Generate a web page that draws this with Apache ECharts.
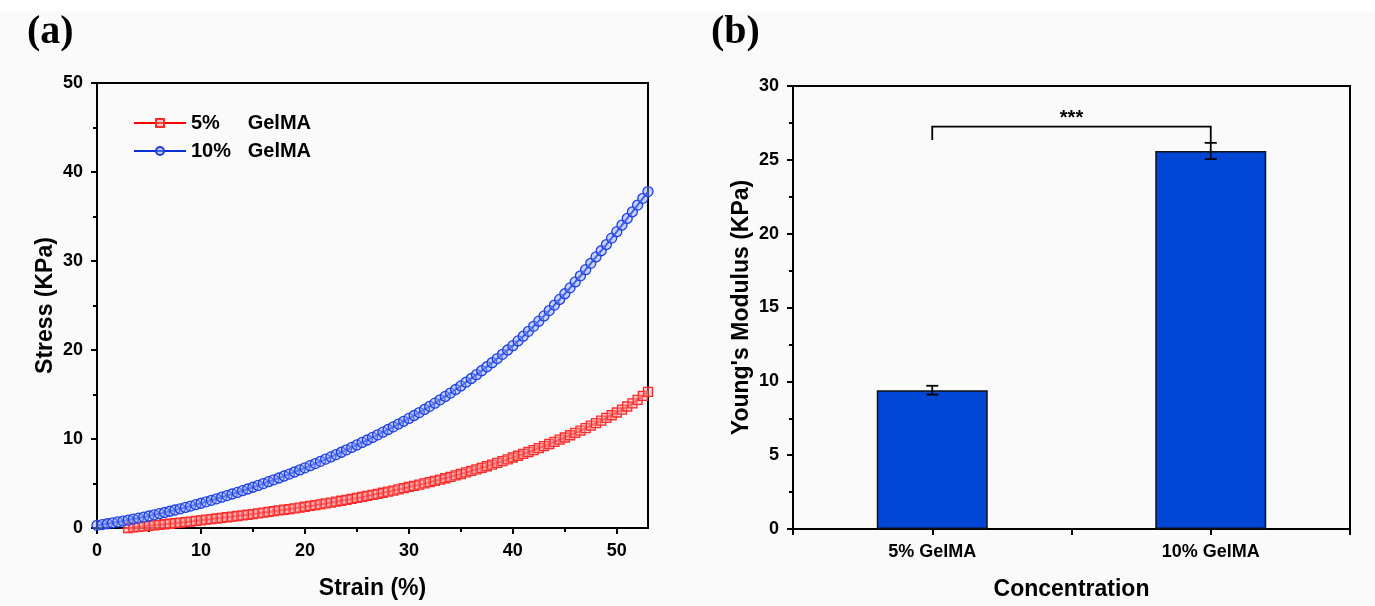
<!DOCTYPE html>
<html>
<head>
<meta charset="utf-8">
<title>GelMA mechanics</title>
<script src="https://cdn.jsdelivr.net/npm/echarts@6/dist/echarts.min.js"></script>
<style>
  html, body { margin: 0; padding: 0; background: #fafafa; }
  #main { width: 1375px; height: 606px; }
</style>
</head>
<body>
<div id="main"></div>
<script>
// (a) stress-strain curves, strain in %
var strain = [
  0, 0.5, 1, 1.5, 2, 2.5, 3, 3.5, 4, 4.5, 5, 5.5, 6, 6.5, 7, 7.5, 8, 8.5, 9, 9.5,
  10, 10.5, 11, 11.5, 12, 12.5, 13, 13.5, 14, 14.5, 15, 15.5, 16, 16.5, 17, 17.5, 18, 18.5, 19, 19.5,
  20, 20.5, 21, 21.5, 22, 22.5, 23, 23.5, 24, 24.5, 25, 25.5, 26, 26.5, 27, 27.5, 28, 28.5, 29, 29.5,
  30, 30.5, 31, 31.5, 32, 32.5, 33, 33.5, 34, 34.5, 35, 35.5, 36, 36.5, 37, 37.5, 38, 38.5, 39, 39.5,
  40, 40.5, 41, 41.5, 42, 42.5, 43, 43.5, 44, 44.5, 45, 45.5, 46, 46.5, 47, 47.5, 48, 48.5, 49, 49.5,
  50, 50.5, 51, 51.5, 52, 52.5, 53
];
var stress5 = [
  null, null, null, null, -0.30, -0.15, 0.00, 0.06, 0.12, 0.18, 0.24, 0.30, 0.36, 0.42, 0.48, 0.54, 0.60, 0.66, 0.72, 0.79,
  0.86, 0.93, 1.00, 1.07, 1.14, 1.21, 1.28, 1.35, 1.42, 1.49, 1.57, 1.65, 1.73, 1.81, 1.89, 1.97, 2.05, 2.13, 2.21, 2.30,
  2.39, 2.48, 2.57, 2.66, 2.76, 2.86, 2.96, 3.06, 3.16, 3.27, 3.38, 3.49, 3.60, 3.72, 3.84, 3.96, 4.08, 4.21, 4.34, 4.47,
  4.61, 4.74, 4.87, 5.01, 5.15, 5.29, 5.44, 5.59, 5.75, 5.91, 6.07, 6.24, 6.41, 6.58, 6.76, 6.94, 7.13, 7.32, 7.52, 7.72,
  7.92, 8.12, 8.33, 8.54, 8.76, 8.98, 9.21, 9.44, 9.68, 9.92, 10.17, 10.42, 10.68, 10.95, 11.22, 11.50, 11.78, 12.07, 12.37, 12.67,
  12.98, 13.31, 13.65, 14.00, 14.40, 14.85, 15.30
];
var stress10 = [
  0.30, 0.39, 0.48, 0.58, 0.68, 0.78, 0.89, 1.00, 1.11, 1.23, 1.35, 1.48, 1.61, 1.74, 1.88, 2.02, 2.16, 2.31, 2.46, 2.62,
  2.78, 2.94, 3.11, 3.28, 3.46, 3.64, 3.82, 4.00, 4.19, 4.38, 4.58, 4.78, 4.99, 5.20, 5.41, 5.62, 5.84, 6.06, 6.29, 6.52,
  6.76, 7.00, 7.24, 7.49, 7.74, 7.99, 8.25, 8.51, 8.78, 9.05, 9.33, 9.61, 9.89, 10.18, 10.47, 10.77, 11.07, 11.37, 11.68, 11.99,
  12.31, 12.64, 12.97, 13.32, 13.67, 14.03, 14.40, 14.78, 15.16, 15.56, 15.96, 16.38, 16.80, 17.23, 17.67, 18.12, 18.57, 19.04, 19.51, 20.00,
  20.49, 21.02, 21.55, 22.10, 22.66, 23.24, 23.83, 24.43, 25.05, 25.68, 26.32, 26.98, 27.65, 28.33, 29.03, 29.74, 30.46, 31.15, 31.85, 32.57,
  33.30, 34.04, 34.78, 35.53, 36.28, 37.04, 37.80
];
var curveNames = ['5%     GelMA', '10%   GelMA'];
var strainMajor = [0, 10, 20, 30, 40, 50];
var strainMinor = [5, 15, 25, 35, 45];

// (b) Young's modulus
var concentrations = ['5% GelMA', '10% GelMA'];
var concPos = [1, 3];
var modulus = [9.4, 25.6];
var modulusErr = [0.3, 0.55];
// significance bracket: [from, to, top, left leg end, right leg end]
var sigBracket = [1, 3, 27.25, 26.35, 26.15];
var sigLabel = '***';

function pairs(xs, ys) {
  var out = [];
  for (var i = 0; i < xs.length; i++) {
    if (ys[i] !== null) out.push([xs[i], ys[i]]);
  }
  return out;
}

var chart = echarts.init(document.getElementById('main'));

var tickFont = { color: '#000', fontFamily: 'Liberation Sans', fontWeight: 'bold', fontSize: 18 };
var nameFont = { color: '#000', fontFamily: 'Liberation Sans', fontWeight: 'bold', fontSize: 23 };
var blackLine = { lineStyle: { color: '#000', width: 2 } };
var tickLine = { color: '#000', width: 2 };

chart.setOption({
  animation: false,
  backgroundColor: '#fafafa',
  graphic: [
    { type: 'rect', left: 0, top: 0, shape: { width: 1375, height: 12 }, style: { fill: '#ffffff' } },
    { type: 'text', left: 27, top: 13, style: { text: '(a)', font: 'bold 40px "Liberation Serif"', fill: '#000' } },
    { type: 'text', left: 711, top: 13, style: { text: '(b)', font: 'bold 40px "Liberation Serif"', fill: '#000' } }
  ],
  grid: [
    { left: 97, top: 83, width: 551, height: 445, show: true, borderColor: '#000', borderWidth: 2, backgroundColor: 'transparent' },
    { left: 793, top: 86, width: 557, height: 443, show: true, borderColor: '#000', borderWidth: 2, backgroundColor: 'transparent' }
  ],
  legend: {
    data: curveNames,
    orient: 'vertical',
    left: 128,
    top: 108,
    itemWidth: 52,
    itemHeight: 10,
    itemGap: 8,
    textStyle: { color: '#000', fontFamily: 'Liberation Sans', fontWeight: 'bold', fontSize: 20, padding: [0, 0, 0, 0] }
  },
  xAxis: [
    {
      gridIndex: 0, type: 'value', min: 0, max: 53,
      name: 'Strain (%)', nameLocation: 'middle', nameGap: 49, nameTextStyle: nameFont,
      axisLine: blackLine,
      axisTick: { customValues: strainMajor, length: 6, lineStyle: tickLine },
      axisLabel: Object.assign({ customValues: strainMajor, margin: 14 }, tickFont),
      splitLine: { show: false }
    },
    {
      gridIndex: 0, type: 'value', min: 0, max: 53, position: 'bottom',
      axisLine: { show: false },
      axisTick: { customValues: strainMinor, length: 4, lineStyle: tickLine },
      axisLabel: { show: false },
      splitLine: { show: false }
    },
    {
      gridIndex: 1, type: 'value', min: 0, max: 4, interval: 1,
      name: 'Concentration', nameLocation: 'middle', nameGap: 49, nameTextStyle: nameFont,
      axisLine: blackLine,
      axisTick: { length: 6, lineStyle: tickLine },
      axisLabel: Object.assign({
        margin: 14,
        formatter: function (v) {
          var i = concPos.indexOf(v);
          return i >= 0 ? concentrations[i] : '';
        }
      }, tickFont),
      splitLine: { show: false }
    }
  ],
  yAxis: [
    {
      gridIndex: 0, type: 'value', min: 0, max: 50, interval: 10,
      name: 'Stress (KPa)', nameLocation: 'middle', nameGap: 40, nameTextStyle: nameFont,
      axisLine: blackLine,
      axisTick: { length: 6, lineStyle: tickLine },
      minorTick: { show: true, splitNumber: 2, length: 4, lineStyle: tickLine },
      axisLabel: Object.assign({ margin: 14 }, tickFont),
      splitLine: { show: false }
    },
    {
      gridIndex: 1, type: 'value', min: 0, max: 30, interval: 5,
      name: "Young's Modulus (KPa)", nameLocation: 'middle', nameGap: 40, nameTextStyle: nameFont,
      axisLine: blackLine,
      axisTick: { length: 6, lineStyle: tickLine },
      minorTick: { show: true, splitNumber: 2, length: 4, lineStyle: tickLine },
      axisLabel: Object.assign({ margin: 14 }, tickFont),
      splitLine: { show: false }
    }
  ],
  series: [
    {
      name: curveNames[0], type: 'line', xAxisIndex: 0, yAxisIndex: 0,
      data: pairs(strain, stress5),
      symbol: 'rect', symbolSize: 9, showAllSymbol: true, clip: true, z: 3,
      lineStyle: { color: '#ff0000', width: 2 },
      itemStyle: { color: 'rgba(255,150,150,0.45)', borderColor: '#ff2a2a', borderWidth: 1.3 }
    },
    {
      name: curveNames[1], type: 'line', xAxisIndex: 0, yAxisIndex: 0,
      data: pairs(strain, stress10),
      symbol: 'circle', symbolSize: 10, showAllSymbol: true, clip: true, z: 4,
      lineStyle: { color: '#0a2fd4', width: 2 },
      itemStyle: { color: 'rgba(140,160,250,0.45)', borderColor: '#1c40e2', borderWidth: 1.3 }
    },
    {
      type: 'bar', xAxisIndex: 2, yAxisIndex: 1,
      data: concPos.map(function (p, i) { return [p, modulus[i]]; }),
      barWidth: 111,
      itemStyle: { color: '#0047d6', borderColor: '#111', borderWidth: 1.5 }
    },
    {
      type: 'custom', xAxisIndex: 2, yAxisIndex: 1, z: 5,
      data: concPos.map(function (p, i) { return [p, modulus[i], modulusErr[i]]; }),
      renderItem: function (params, api) {
        var x = api.value(0), y = api.value(1), e = api.value(2);
        var top = api.coord([x, y + e]);
        var bot = api.coord([x, y - e]);
        var w = 6;
        var st = { stroke: '#000', lineWidth: 1.8 };
        return {
          type: 'group',
          children: [
            { type: 'line', shape: { x1: top[0], y1: top[1], x2: bot[0], y2: bot[1] }, style: st },
            { type: 'line', shape: { x1: top[0] - w, y1: top[1], x2: top[0] + w, y2: top[1] }, style: st },
            { type: 'line', shape: { x1: bot[0] - w, y1: bot[1], x2: bot[0] + w, y2: bot[1] }, style: st }
          ]
        };
      }
    },
    {
      type: 'custom', xAxisIndex: 2, yAxisIndex: 1, z: 5,
      data: [sigBracket],
      renderItem: function (params, api) {
        var a = api.coord([api.value(0), api.value(3)]);
        var b = api.coord([api.value(0), api.value(2)]);
        var c = api.coord([api.value(1), api.value(2)]);
        var d = api.coord([api.value(1), api.value(4)]);
        var mid = api.coord([(api.value(0) + api.value(1)) / 2, api.value(2)]);
        return {
          type: 'group',
          children: [
            { type: 'polyline', shape: { points: [a, b, c, d] }, style: { stroke: '#000', lineWidth: 1.8, fill: null } },
            { type: 'text', x: mid[0], y: mid[1] - 8,
              style: { text: sigLabel, font: 'bold 20px "Liberation Sans"', fill: '#000', textAlign: 'center', textVerticalAlign: 'middle' } }
          ]
        };
      }
    }
  ]
});
</script>
</body>
</html>
